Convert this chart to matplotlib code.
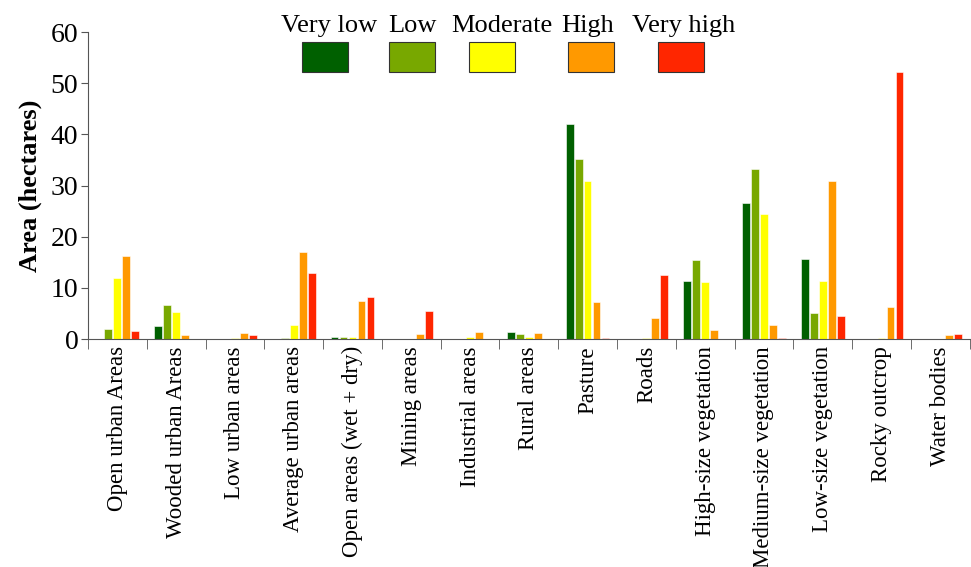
import numpy as np
import matplotlib.pyplot as plt
from matplotlib.patches import Rectangle

plt.rcParams['font.family'] = ['Liberation Serif', 'DejaVu Serif']

categories = ['Open urban Areas', 'Wooded urban Areas', 'Low urban areas',
              'Average urban areas', 'Open areas (wet + dry)', 'Mining areas',
              'Industrial areas', 'Rural areas', 'Pasture', 'Roads',
              'High-size vegetation', 'Medium-size vegetation',
              'Low-size vegetation', 'Rocky outcrop', 'Water bodies']

very_low = [0, 2.6, 0, 0, 0.4, 0, 0, 1.4, 42.0, 0, 11.4, 26.5, 15.6, 0, 0]
low = [2.0, 6.7, 0, 0.2, 0.5, 0, 0, 1.0, 35.2, 0, 15.5, 33.2, 5.0, 0, 0]
moderate = [12.0, 5.2, 0.2, 2.8, 0.4, 0, 0.4, 0.4, 30.8, 0.3, 11.1, 24.5, 11.4, 0.3, 0]
high = [16.3, 0.8, 1.2, 17.0, 7.4, 0.9, 1.4, 1.2, 7.2, 4.2, 1.8, 2.7, 30.8, 6.2, 0.8]
very_high = [1.6, 0, 0.7, 13.0, 8.2, 5.5, 0, 0, 0.3, 12.6, 0, 0.2, 4.5, 52.2, 1.0]

series = [very_low, low, moderate, high, very_high]
names = ['Very low', 'Low', 'Moderate', 'High', 'Very high']
colors = ['#006000', '#78a800', '#ffff00', '#ff9900', '#ff2600']

fig = plt.figure(figsize=(9.71, 5.67), dpi=100)
ax = fig.add_axes([0.0906, 0.402, 0.908, 0.5415])

x = np.arange(len(categories))
w = 0.133
step = 0.153
for i, (vals, c) in enumerate(zip(series, colors)):
    ax.bar(x + (i - 2) * step, vals, width=w, color=c, edgecolor='white', linewidth=0.4)

ax.set_xlim(-0.5, len(categories) - 0.5)
ax.set_ylim(0, 60)
ax.set_yticks(range(0, 61, 10))
ax.tick_params(axis='y', labelsize=20, direction='out', length=5, color='#555555', pad=2)

ax.set_xticks(x)
ax.set_xticklabels(categories, rotation=90, fontsize=16.5)
ax.tick_params(axis='x', length=0, pad=5)
ax.set_xticks(np.arange(-0.5, len(categories), 1), minor=True)
ax.tick_params(axis='x', which='minor', length=7, direction='out', color='#555555')

for s in ['top', 'right']:
    ax.spines[s].set_visible(False)
for s in ['left', 'bottom']:
    ax.spines[s].set_color('#555555')

ax.set_ylabel('Area (hectares)', fontsize=19, fontweight='bold', labelpad=6)

# legend: text above coloured boxes (pixel positions of the original)
box_x = [302, 389, 469, 568, 658]
text_x = [329, 412, 502, 588, 684]
for bx, tx, name, c in zip(box_x, text_x, names, colors):
    fig.patches.append(Rectangle((bx / 971, 1 - 72 / 567), 46 / 971, 30 / 567,
                                 transform=fig.transFigure, facecolor=c,
                                 edgecolor='#333333', linewidth=0.8))
    fig.text(tx / 971, 1 - 26 / 567, name, ha='center', va='center', fontsize=19)

fig.savefig('out.png', dpi=100)
